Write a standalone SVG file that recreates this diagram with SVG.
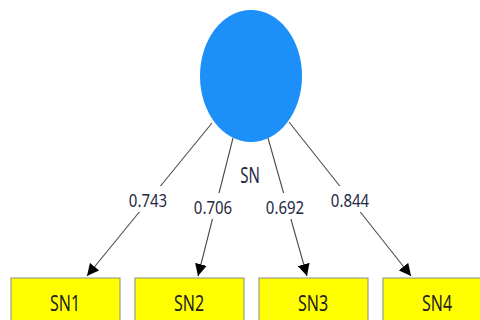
<svg xmlns="http://www.w3.org/2000/svg" width="480" height="320" viewBox="0 0 480 320">
  <style>
    .lbl { font-family: "Noto Sans", "Open Sans", sans-serif; font-size: 15px; fill: #1f2a44; text-anchor: middle; }
    .box { fill: #ffff00; stroke: #8a8a8a; stroke-width: 1; }
    .boxtxt { font-family: "Noto Sans", "Open Sans", sans-serif; font-size: 16px; fill: #222; text-anchor: middle; }
    .edge { stroke: #4a4a4a; stroke-width: 1.1; fill: none; marker-end: url(#arrow); }
    .bg { fill: #fff; }
  </style>
  <defs>
    <marker id="arrow" viewBox="0 0 12 12" refX="12" refY="6" markerWidth="12" markerHeight="12" markerUnits="userSpaceOnUse" orient="auto">
      <path d="M0,0 L12,6 L0,12 Z" fill="#000"/>
    </marker>
  </defs>
  <rect width="480" height="320" fill="#fff"/>

  <g id="connectors">
    <line class="edge" x1="212" y1="123" x2="87" y2="276"/>
    <line class="edge" x1="233" y1="138" x2="198" y2="276"/>
    <line class="edge" x1="268" y1="138" x2="307" y2="276"/>
    <line class="edge" x1="289" y1="122" x2="411" y2="276"/>
    <rect class="bg" x="126" y="186" width="44" height="26"/>
    <text class="lbl" transform="translate(148,207) scale(1,1.25)">0.743</text>
    <rect class="bg" x="191" y="193" width="44" height="26"/>
    <text class="lbl" transform="translate(213,214) scale(1,1.25)">0.706</text>
    <rect class="bg" x="263" y="193" width="44" height="26"/>
    <text class="lbl" transform="translate(285,214) scale(1,1.25)">0.692</text>
    <rect class="bg" x="328" y="186" width="44" height="26"/>
    <text class="lbl" transform="translate(350,207) scale(1,1.25)">0.844</text>
  </g>

  <g id="SN">
    <ellipse cx="251" cy="76" rx="51" ry="66" fill="#1c8ff8"/>
    <text class="lbl" transform="translate(250,183) scale(1,1.4)">SN</text>
  </g>

  <g id="SN1">
    <rect class="box" x="11" y="278" width="109" height="50"/>
    <text class="boxtxt" transform="translate(65,311) scale(1,1.35)">SN1</text>
  </g>
  <g id="SN2">
    <rect class="box" x="135" y="278" width="109" height="50"/>
    <text class="boxtxt" transform="translate(189,311) scale(1,1.35)">SN2</text>
  </g>
  <g id="SN3">
    <rect class="box" x="259" y="278" width="109" height="50"/>
    <text class="boxtxt" transform="translate(313,311) scale(1,1.35)">SN3</text>
  </g>
  <g id="SN4">
    <rect class="box" x="383" y="278" width="109" height="50"/>
    <text class="boxtxt" transform="translate(437,311) scale(1,1.35)">SN4</text>
  </g>
</svg>
